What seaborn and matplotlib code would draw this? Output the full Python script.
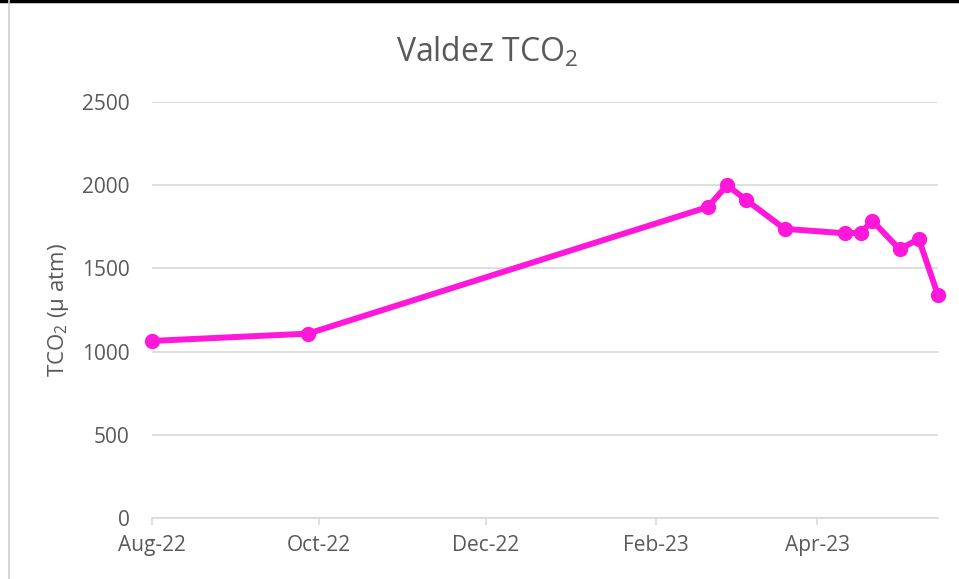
import matplotlib
matplotlib.use("Agg")
import matplotlib.pyplot as plt
import matplotlib.dates as mdates
from matplotlib.lines import Line2D
import seaborn as sns
import pandas as pd

# Sample dates and TCO2 readings
dates = ["2022-08-01", "2022-09-27", "2023-02-20", "2023-02-27", "2023-03-06",
         "2023-03-20", "2023-04-11", "2023-04-17", "2023-04-21", "2023-05-01",
         "2023-05-08", "2023-05-15"]
tco2 = [1064, 1108, 1869, 2000, 1911, 1738, 1711, 1715, 1787, 1615, 1677, 1340]

x_start, x_end = "2022-08-01", "2023-05-15"
y_ticks = [0, 500, 1000, 1500, 2000, 2500]

df = pd.DataFrame({"date": pd.to_datetime(dates), "tco2": tco2})

sns.set_theme(style="white")
plt.rcParams["font.family"] = ["Open Sans", "DejaVu Sans"]
plt.rcParams["mathtext.default"] = "regular"

grey = "#595959"
pink = "#FF17DA"

fig = plt.figure(figsize=(9.59, 5.79), dpi=100)
ax = fig.add_axes([0.1585, 0.1054, 0.8195, 0.7184])

sns.lineplot(data=df, x="date", y="tco2", ax=ax, color=pink, linewidth=4.3,
             marker="o", markersize=11, markeredgewidth=0, clip_on=False)

ax.set_xlim(pd.Timestamp(x_start), pd.Timestamp(x_end))
ax.set_ylim(0, 2500)
ax.set_yticks(y_ticks)
ax.xaxis.set_major_locator(mdates.MonthLocator(bymonth=[2, 4, 6, 8, 10, 12]))
ax.xaxis.set_major_formatter(mdates.DateFormatter("%b-%y"))

ax.yaxis.grid(True, color="#D9D9D9", linewidth=1.2)
ax.set_axisbelow(True)
for s in ["top", "right", "left"]:
    ax.spines[s].set_visible(False)
ax.spines["bottom"].set_color("#D9D9D9")
ax.spines["bottom"].set_linewidth(1.2)

ax.tick_params(axis="x", bottom=True, length=5, width=1.2, color="#D9D9D9",
               labelsize=15, labelcolor=grey, pad=7)
ax.tick_params(axis="y", left=False, labelsize=15, labelcolor=grey, pad=10)

ax.set_xlabel("")
ax.set_ylabel("TCO$_2$ (µ atm)", fontsize=16, color=grey, labelpad=8)
fig.text(487 / 959, 1 - 62 / 579, "Valdez TCO$_2$", fontsize=23, color=grey,
         ha="center", va="baseline")

# chart frame bits from the screenshot
fig.add_artist(Line2D([0, 1], [0.998, 0.998], color="black", linewidth=2.5,
                      transform=fig.transFigure))
fig.add_artist(Line2D([0.009, 0.009], [0, 1], color="#D0D0D0", linewidth=1.2,
                      transform=fig.transFigure))

fig.savefig("out.png", dpi=100, facecolor="white")
